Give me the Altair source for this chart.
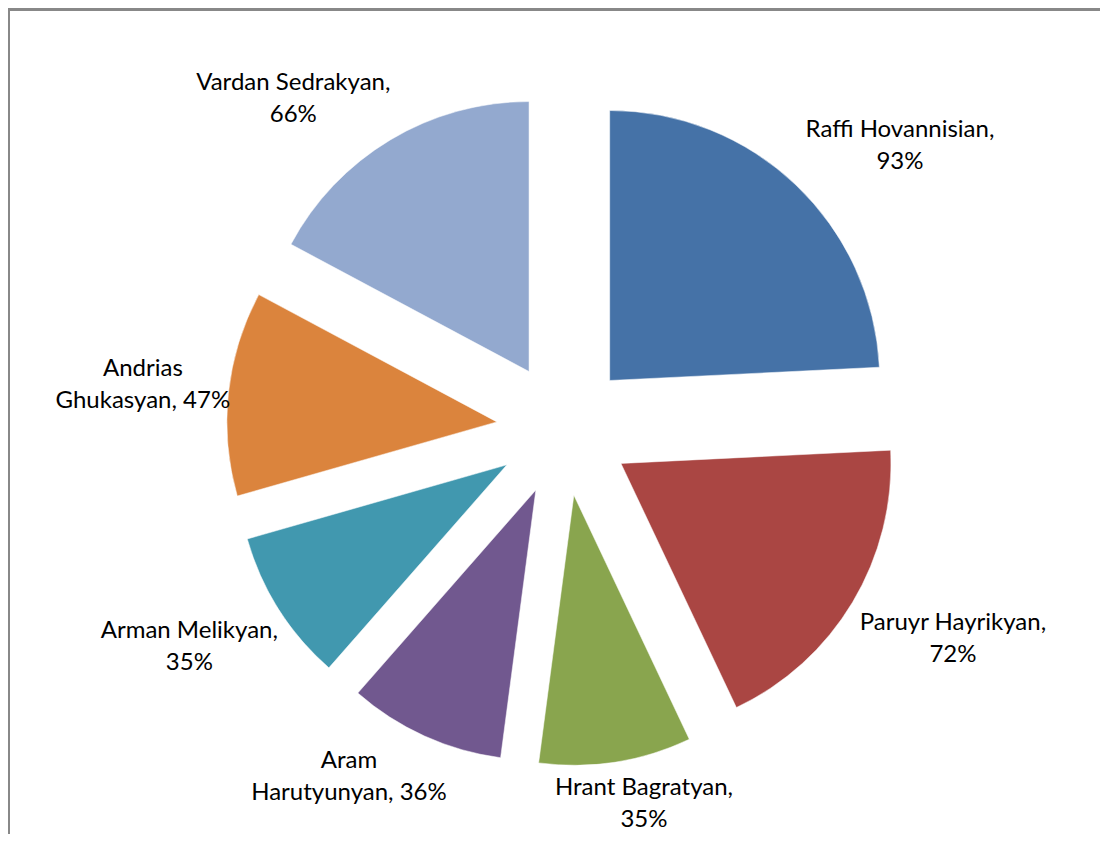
import altair as alt
import pandas as pd

# ---- data ----
candidates = ["Raffi Hovannisian", "Paruyr Hayrikyan", "Hrant Bagratyan",
              "Aram Harutyunyan", "Arman Melikyan", "Andrias Ghukasyan",
              "Vardan Sedrakyan"]
percent = [93, 72, 35, 36, 35, 47, 66]
labels = ["Raffi Hovannisian,\n93%", "Paruyr Hayrikyan,\n72%",
          "Hrant Bagratyan,\n35%", "Aram\nHarutyunyan, 36%",
          "Arman Melikyan,\n35%", "Andrias\nGhukasyan, 47%",
          "Vardan Sedrakyan,\n66%"]
colors = ["#4572A7", "#AA4643", "#89A54E", "#71588F", "#4198AF",
          "#DB843D", "#93A9CF"]

df = pd.DataFrame({
    "candidate": candidates,
    "percent": percent,
    "label": labels,
    "order": list(range(len(candidates))),
    "maxlen": [max(len(s) for s in l.split("\n")) for l in labels],
    "nlines": [len(l.split("\n")) for l in labels],
})

# ---- layout / style ----
W, H = 1092, 826
CX, CY = 555.5, 421      # pie centre
R = 270                  # pie radius
EXPLODE = 67             # explosion distance
PAD = 10                 # label gap
CHAR_W = 10.8            # approx label char width
LH = 32                  # label line height
FONT = "Lato"
FS = 24

base = (
    alt.Chart(df)
    .transform_joinaggregate(total="sum(percent)")
    .transform_window(cum="sum(percent)", sort=[alt.SortField("order")],
                      frame=[None, 0])
    .transform_calculate(
        start="2*PI*(datum.cum - datum.percent)/datum.total",
        end="2*PI*datum.cum/datum.total",
        mid="PI*(2*datum.cum - datum.percent)/datum.total",
    )
    .transform_calculate(
        ux="sin(datum.mid)",
        uy="-cos(datum.mid)",
    )
    .transform_calculate(
        cx=f"{CX} + {EXPLODE}*datum.ux",
        cy=f"{CY} + {EXPLODE}*datum.uy",
    )
    .transform_calculate(
        lx=f"datum.cx + {R + PAD}*datum.ux + datum.maxlen*{CHAR_W}/2*clamp(2*datum.ux,-1,1)",
        ly=f"datum.cy + {R + PAD}*datum.uy + {LH}*clamp(2*datum.uy,-1,1) - (datum.nlines-1)*{LH}/2",
    )
)

arcs = base.mark_arc(outerRadius=R, stroke="white", strokeWidth=0.5).encode(
    theta=alt.Theta("start:Q", scale=None),
    theta2="end:Q",
    x=alt.X("cx:Q", scale=None, axis=None),
    y=alt.Y("cy:Q", scale=None, axis=None),
    color=alt.Color("candidate:N", scale=alt.Scale(domain=candidates, range=colors),
                    legend=None),
)

text = base.mark_text(font=FONT, fontSize=FS, lineHeight=LH, lineBreak="\n",
                      align="center", baseline="middle", color="black").encode(
    x=alt.X("lx:Q", scale=None, axis=None),
    y=alt.Y("ly:Q", scale=None, axis=None),
    text="label:N",
)

top_border = alt.Chart(df).mark_rule(color="#888888", strokeWidth=2).encode(
    x=alt.value(0), x2=alt.value(W), y=alt.value(1.5))
left_border = alt.Chart(df).mark_rule(color="#888888", strokeWidth=2).encode(
    x=alt.value(0.5), y=alt.value(1.5), y2=alt.value(H))

chart = (
    alt.layer(top_border, left_border, arcs, text)
    .properties(width=W, height=H, padding=0, autosize="none")
    .configure_view(stroke=None)
)

chart.save("out.html", embed_options={"renderer": "svg", "actions": False})
